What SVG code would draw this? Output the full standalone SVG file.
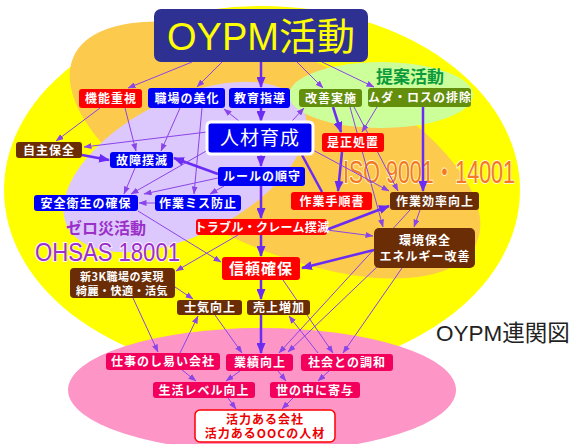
<svg xmlns="http://www.w3.org/2000/svg" width="571" height="444" viewBox="0 0 571 444">
<defs>
<marker id="a" markerUnits="userSpaceOnUse" markerWidth="8" markerHeight="6" refX="7.5" refY="3" orient="auto"><path d="M0,0 L8,3 L0,6 z" fill="#8a45e8"/></marker>
<marker id="A" markerUnits="userSpaceOnUse" markerWidth="11" markerHeight="9" refX="10" refY="4.5" orient="auto"><path d="M0,0 L11,4.5 L0,9 z" fill="#6a2cf5"/></marker>
<style>
.b{fill:#0000f5}.r{fill:#ff0000}.br{fill:#6b2d05}.ol{fill:#638f0c}.mg{fill:#f2005c}
.t{font-family:"Noto Sans CJK JP",sans-serif;font-weight:bold;fill:#fff;text-anchor:middle;font-size:12px;letter-spacing:1px}
.ln{stroke:#8a45e8;stroke-width:1;fill:none;marker-end:url(#a)}
.lt{stroke:#6a2cf5;stroke-width:2.5;fill:none;marker-end:url(#A)}
.ltn{stroke:#6a2cf5;stroke-width:2.5;fill:none}
</style>
</defs>
<g id="background">
<ellipse cx="262" cy="190" rx="258" ry="184" fill="#ffff00"/>
<ellipse cx="275" cy="150" rx="222" ry="97" fill="#fccb4e" transform="rotate(25 275 150)"/>
<ellipse cx="185" cy="167" rx="132" ry="68" fill="#dcc8fc" transform="rotate(-27 185 167)"/>
<ellipse cx="381" cy="95" rx="92" ry="33" fill="#ccff99"/>
<ellipse cx="262" cy="390" rx="194" ry="62" fill="#fd95c6"/>
</g>
<g id="labels">
<text x="410" y="83" style="font-family:'Noto Sans CJK JP',sans-serif;font-weight:bold;font-size:17px;fill:#0a9a3c;text-anchor:middle">提案活動</text>
<text x="106" y="234" style="font-family:'Noto Sans CJK JP',sans-serif;font-weight:bold;font-size:16px;fill:#9b30c8;text-anchor:middle">ゼロ災活動</text>
<text x="35" y="261" textLength="145" lengthAdjust="spacingAndGlyphs" style="font-family:'Liberation Sans',sans-serif;font-size:26px;fill:#9b30c8;stroke:#fff3ff;stroke-width:2;paint-order:stroke">OHSAS 18001</text>
<text x="343" y="183" textLength="172" lengthAdjust="spacingAndGlyphs" style="font-family:'Liberation Sans','Noto Sans CJK JP',sans-serif;font-size:31px;fill:#f47920;stroke:#fff5d0;stroke-width:2;paint-order:stroke">ISO 9001・14001</text>
<text x="436" y="341" style="font-family:'Liberation Sans','Noto Sans CJK JP',sans-serif;font-size:22.5px;fill:#222">OYPM連関図</text>
</g>
<g id="connectors">
<line class="ln" x1="192" y1="62" x2="128" y2="88"/>
<line class="ln" x1="222" y1="62" x2="197" y2="87"/>
<line class="lt" x1="261" y1="62" x2="261" y2="87"/>
<line class="ln" x1="297" y1="62" x2="323" y2="88"/>
<line class="ln" x1="322" y1="62" x2="374" y2="87"/>
<line class="lt" x1="261" y1="108" x2="261" y2="121"/>
<line class="ln" x1="239" y1="121" x2="224" y2="109"/>
<line class="ln" x1="292" y1="121" x2="304" y2="108"/>
<line class="ln" x1="207" y1="132" x2="84" y2="147"/>
<line class="ln" x1="100" y1="108" x2="56" y2="141"/>
<line class="ln" x1="125" y1="108" x2="136" y2="151"/>
<line class="ln" x1="180" y1="108" x2="161" y2="151"/>
<line class="ln" x1="202" y1="108" x2="194" y2="194"/>
<line class="lt" x1="82" y1="155" x2="109" y2="160"/>
<line class="lt" x1="218" y1="174" x2="174" y2="158"/>
<line class="ln" x1="135" y1="168" x2="124" y2="194"/>
<line class="ln" x1="208" y1="150" x2="131" y2="194"/>
<line class="ln" x1="218" y1="178" x2="144" y2="194"/>
<line class="ln" x1="224" y1="186" x2="210" y2="194"/>
<line class="ln" x1="155" y1="203" x2="139" y2="203"/>
<line class="lt" x1="261" y1="154" x2="261" y2="166"/>
<line class="lt" x1="261" y1="186" x2="261" y2="218"/>
<line class="lt" x1="333" y1="107" x2="341" y2="132"/>
<line class="ln" x1="377" y1="107" x2="362" y2="132"/>
<line class="lt" x1="423" y1="107" x2="423" y2="191"/>
<line class="ln" x1="350" y1="107" x2="383" y2="227"/>
<line class="ln" x1="354" y1="107" x2="398" y2="191"/>
<line class="lt" x1="342" y1="152" x2="338" y2="191"/>
<line class="ltn" x1="302" y1="155" x2="322" y2="192"/>
<line class="ln" x1="313" y1="150" x2="389" y2="191"/>
<line class="ln" x1="420" y1="210" x2="414" y2="227"/>
<line class="ln" x1="410" y1="210" x2="279" y2="353"/>
<line class="lt" x1="326" y1="230" x2="389" y2="206"/>
<line class="ln" x1="327" y1="230" x2="373" y2="236"/>
<line class="lt" x1="374" y1="250" x2="302" y2="268"/>
<line class="ln" x1="378" y1="266" x2="288" y2="352"/>
<line class="ln" x1="402" y1="268" x2="343" y2="353"/>
<line class="lt" x1="261" y1="235" x2="261" y2="256"/>
<line class="ln" x1="238" y1="235" x2="176" y2="271"/>
<line class="ln" x1="138" y1="211" x2="221" y2="262"/>
<line class="lt" x1="261" y1="280" x2="261" y2="299"/>
<line class="ln" x1="283" y1="280" x2="333" y2="353"/>
<line class="ln" x1="318" y1="353" x2="289" y2="316"/>
<line class="ln" x1="175" y1="287" x2="193" y2="299"/>
<line class="ln" x1="133" y1="298" x2="158" y2="352"/>
<line class="ln" x1="180" y1="353" x2="198" y2="316"/>
<line class="ln" x1="215" y1="315" x2="242" y2="353"/>
<line class="lt" x1="261" y1="315" x2="261" y2="353"/>
<line class="ln" x1="182" y1="370" x2="196" y2="381"/>
<line class="ln" x1="240" y1="371" x2="226" y2="381"/>
<line class="ln" x1="278" y1="371" x2="286" y2="381"/>
<line class="ln" x1="329" y1="371" x2="318" y2="381"/>
<line class="ln" x1="228" y1="398" x2="236" y2="409"/>
<line class="ln" x1="293" y1="398" x2="282" y2="409"/>
</g>
<g id="oypm"><rect x="154" y="9" width="214" height="53" rx="7" fill="#2e3192"/><text x="261" y="50" style="font-family:'Liberation Sans','Noto Sans CJK JP',sans-serif;font-size:38px;fill:#ffff00;text-anchor:middle">OYPM活動</text></g>
<g id="kino"><rect class="r" x="79" y="89" width="63" height="19" rx="3"/><text class="t" x="111" y="103">機能重視</text></g>
<g id="shokuba"><rect class="b" x="148" y="88" width="77" height="20" rx="3"/><text class="t" x="187" y="102.5">職場の美化</text></g>
<g id="kyoiku"><rect class="b" x="229" y="88" width="61" height="20" rx="3"/><text class="t" x="260" y="102.5">教育指導</text></g>
<g id="kaizen"><rect class="ol" x="299" y="89" width="63" height="18" rx="3"/><text class="t" x="331" y="102.5">改善実施</text></g>
<g id="muda"><rect class="ol" x="368" y="88" width="103" height="19" rx="3"/><text class="t" x="420" y="102">ムダ・ロスの排除</text></g>
<g id="jinzai"><rect x="207" y="122" width="106" height="32" rx="4" fill="#0000f0" stroke="#fff" stroke-width="3"/><text class="t" x="260" y="145" style="font-size:19px;font-weight:normal">人材育成</text></g>
<g id="jishu"><rect class="br" x="16" y="142" width="66" height="16" rx="3"/><text class="t" x="49" y="154.5">自主保全</text></g>
<g id="zesei"><rect class="r" x="322" y="133" width="62" height="19" rx="3"/><text class="t" x="353" y="147">是正処置</text></g>
<g id="kosho"><rect class="b" x="110" y="152" width="63" height="16" rx="3"/><text class="t" x="142" y="164.5">故障撲滅</text></g>
<g id="rule"><rect class="b" x="218" y="167" width="87" height="19" rx="3"/><text class="t" x="262" y="181">ルールの順守</text></g>
<g id="anzen"><rect class="b" x="34" y="195" width="104" height="16" rx="3"/><text class="t" x="86" y="207.5">安全衛生の確保</text></g>
<g id="miss"><rect class="b" x="155" y="195" width="86" height="16" rx="3"/><text class="t" x="198" y="207.5">作業ミス防止</text></g>
<g id="tejun"><rect class="r" x="291" y="192" width="81" height="18" rx="3"/><text class="t" x="332" y="205.5">作業手順書</text></g>
<g id="koritsu"><rect class="br" x="390" y="192" width="89" height="18" rx="3"/><text class="t" x="435" y="205.5">作業効率向上</text></g>
<g id="trouble"><rect class="r" x="196" y="219" width="131" height="16" rx="3"/><text class="t" x="262" y="231.5" style="letter-spacing:0.3px">トラブル・クレーム撲滅</text></g>
<g id="kankyo"><rect class="br" x="374" y="228" width="101" height="40" rx="5"/><text class="t" x="425" y="245">環境保全</text><text class="t" x="425" y="261">エネルギー改善</text></g>
<g id="shinrai"><rect class="r" x="222" y="257" width="78" height="23" rx="3"/><text class="t" x="261" y="274" style="font-size:15px">信頼確保</text></g>
<g id="shin3k"><rect class="br" x="70" y="268" width="105" height="30" rx="4"/><text class="t" x="122" y="281" style="font-size:11px;letter-spacing:0.5px">新3K職場の実現</text><text class="t" x="122" y="295" style="font-size:11px;letter-spacing:0.5px">綺麗・快適・活気</text></g>
<g id="shiki"><rect class="br" x="177" y="300" width="65" height="15" rx="3"/><text class="t" x="210" y="312">士気向上</text></g>
<g id="uriage"><rect class="br" x="247" y="300" width="63" height="15" rx="3"/><text class="t" x="279" y="312">売上増加</text></g>
<g id="shigoto"><rect class="mg" x="106" y="353" width="114" height="17" rx="3"/><text class="t" x="163" y="366">仕事のし易い会社</text></g>
<g id="gyoseki"><rect class="mg" x="226" y="354" width="67" height="17" rx="3"/><text class="t" x="260" y="367">業績向上</text></g>
<g id="shakai"><rect class="mg" x="301" y="354" width="92" height="17" rx="3"/><text class="t" x="347" y="367">社会との調和</text></g>
<g id="seikatsu"><rect class="mg" x="153" y="382" width="102" height="16" rx="3"/><text class="t" x="204" y="394.5">生活レベル向上</text></g>
<g id="yononaka"><rect class="mg" x="270" y="382" width="90" height="16" rx="3"/><text class="t" x="315" y="394.5">世の中に寄与</text></g>
<g id="katsuryoku"><rect x="195" y="410" width="140" height="32" rx="5" fill="#fff" stroke="#ff0000" stroke-width="1.5"/><text class="t" x="265" y="424" style="fill:#ee0000;font-size:12px">活力ある会社</text><text class="t" x="265" y="438" style="fill:#ee0000;font-size:12px">活力あるOOCの人材</text></g>
</svg>
